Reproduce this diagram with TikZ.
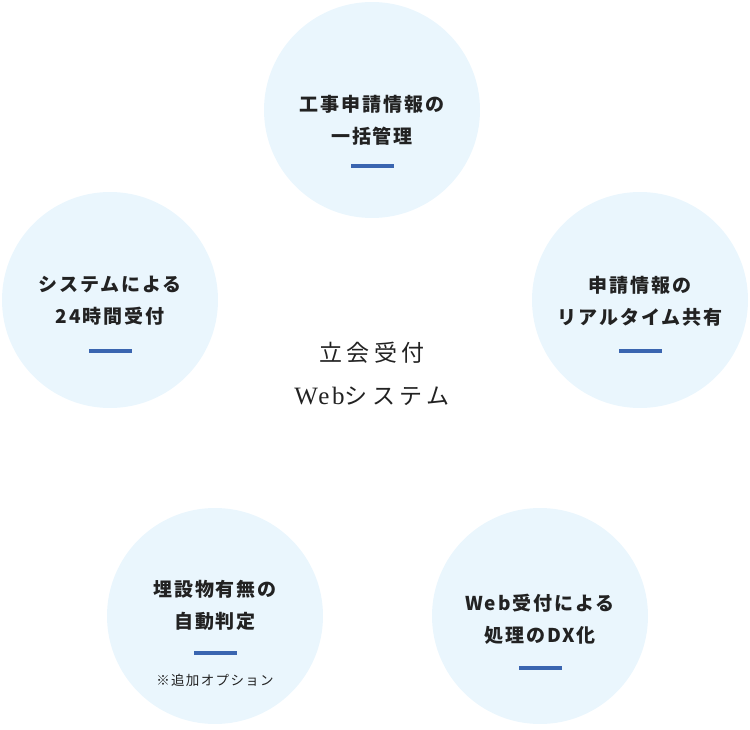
\documentclass[tikz,border=0pt]{standalone}
\usepackage{fontspec}
\usetikzlibrary{positioning}
\newfontfamily\jpfont[LetterSpace=10]{Noto Sans CJK JP}
\newfontfamily\jpsmall[LetterSpace=10]{Noto Sans CJK JP}
\newfontfamily\jpcenter[LetterSpace=20]{Noto Sans CJK JP}
\newfontfamily\centerserif[LetterSpace=10]{Liberation Serif}
\definecolor{circlefill}{HTML}{EAF6FD}
\definecolor{barblue}{HTML}{3A65B0}
\definecolor{textdark}{HTML}{222222}
\tikzstyle{feature wheel}=[
    x=1pt,y=-1pt,
    every node/.style={
        align=center,
        text=textdark,
    },
    feature/.style={
        circle,
        fill=circlefill,
        minimum size=216pt,
        inner sep=0pt,
    },
    caption/.style={
        font={\jpfont\bfseries\fontsize{19}{32}\selectfont},
    },
    note/.style={
        font={\jpsmall\fontsize{13.5}{16}\selectfont},
    },
    bar/.style={
        fill=barblue,
        minimum width=43pt,
        minimum height=4pt,
        inner sep=0pt,
    },
]
\newcommand{\featurelabel}[2]{#1\\#2}

\begin{document}
\begin{tikzpicture}[feature wheel]
        \useasboundingbox (0,0) rectangle (750,730);
        \node[feature] (c1) at (372,110) {};
        \node[feature] (c2) at (110,300) {};
        \node[feature] (c3) at (640,300) {};
        \node[feature] (c4) at (215,616) {};
        \node[feature] (c5) at (540,616) {};

        \node[caption] (l1) at (372,120) {\featurelabel{工事申請情報の}{一括管理}};
        \node[caption] (l2) at (110,301) {\featurelabel{システムによる}{24時間受付}};
        \node[caption] (l3) at (640,301) {\featurelabel{申請情報の}{リアルタイム共有}};
        \node[caption] (l4) at (215,605) {\featurelabel{埋設物有無の}{自動判定}};
        \node[caption] (l5) at (540,619) {\featurelabel{Web受付による}{処理のDX化}};

        \node[bar] (b1) at (372,166) {};
        \node[bar] (b2) at (110,351) {};
        \node[bar] (b3) at (640,351) {};
        \node[bar] (b4) at (215,653) {};
        \node[bar] (b5) at (540,668) {};

        \node[note] (n4) at (215,680) {※追加オプション};

        \node[font={\fontsize{23}{43}\selectfont}] (title) at (372,374)
            {\jpcenter 立会受付\\{\centerserif\fontsize{25}{43}\selectfont Web}\jpcenter システム};
    \end{tikzpicture}
\end{document}
